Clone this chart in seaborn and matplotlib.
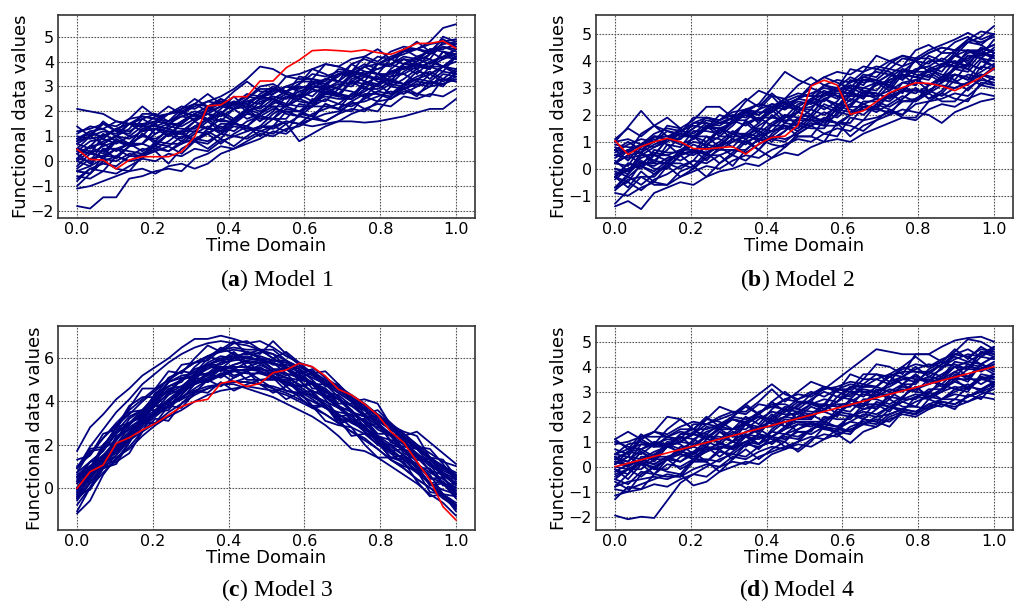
import numpy as np
import pandas as pd
import matplotlib
matplotlib.use("Agg")
import matplotlib.pyplot as plt
import seaborn as sns

# time grid shared by all simulated curves (30 equally spaced points)
time_domain = np.linspace(0, 1, 30)

# ---- Model 1 ----
model1_curves = [
    [2.1, 2.0, 1.9, 1.6, 1.5, 1.7, 1.4, 1.6, 1.8, 1.7, 2.0, 2.2, 2.1, 2.4, 2.3, 2.6, 2.5, 2.8, 3.0, 2.9, 3.2, 3.1, 3.4, 3.3, 3.6, 3.8, 3.7, 4.0, 4.2, 4.1],
    [-1.8, -1.9, -1.45, -1.45, -0.7, -0.6, -0.4, -0.3, -0.4, 0.1, 0.3, 0.6, 0.5, 0.8, 1.1, 1.0, 1.3, 1.4, 1.7, 1.6, 1.9, 2.1, 2.0, 2.4, 2.5, 2.8, 2.7, 3.0, 3.1, 3.3],
    [0.8, 1.0, 1.2, 1.1, 1.5, 1.4, 1.8, 1.9, 2.2, 2.1, 2.4, 2.6, 2.9, 3.3, 3.8, 3.7, 3.4, 3.5, 3.7, 3.9, 3.8, 4.1, 4.2, 4.0, 4.4, 4.6, 4.5, 4.7, 4.8, 4.9],
    [-0.4, -0.2, 0.1, 0.0, 0.3, 0.2, 0.5, 0.4, 0.7, 0.9, 0.8, 1.1, 1.0, 1.2, 1.4, 1.3, 1.6, 1.5, 1.4, 1.5, 1.6, 1.6, 1.55, 1.6, 1.7, 1.8, 1.95, 2.1, 2.1, 2.5],
    [0.5, 0.3, 0.6, 0.8, 0.7, 1.0, 0.9, 1.2, 1.1, 1.4, 1.3, 1.2, 1.5, 1.4, 1.2, 1.1, 1.5, 0.8, 1.1, 1.4, 1.6, 1.9, 2.1, 2.3, 2.2, 2.6, 2.5, 2.7, 2.6, 2.9],
    [0.9, 1.1, 1.0, 1.3, 1.2, 1.5, 1.6, 1.5, 1.8, 2.0, 1.9, 2.2, 2.4, 2.3, 2.6, 2.5, 2.8, 3.0, 2.9, 3.3, 3.5, 3.4, 3.8, 3.9, 4.2, 4.4, 4.5, 4.8, 5.35, 5.5],
    [1.0, 0.9, 1.0, 1.3, 1.5, 1.4, 1.6, 1.9, 2.0, 1.8, 2.1, 2.3, 2.3, 2.7, 2.6, 2.7, 3.0, 3.2, 3.2, 3.1, 3.5, 3.6, 3.9, 3.7, 3.9, 4.2, 4.1, 4.5, 4.5, 4.7],
    [0.4, 0.8, 0.9, 0.7, 1.0, 1.4, 1.4, 1.3, 1.6, 1.9, 1.7, 1.9, 2.3, 2.3, 2.1, 2.5, 2.8, 2.6, 3.0, 3.0, 2.9, 3.4, 3.6, 3.5, 3.5, 3.9, 4.1, 3.9, 4.2, 4.5],
    [0.5, 0.4, 0.4, 0.8, 0.7, 0.7, 1.1, 1.4, 1.3, 1.3, 1.7, 1.6, 1.6, 2.0, 2.2, 2.2, 2.2, 2.5, 2.9, 2.7, 2.7, 3.2, 3.1, 3.0, 3.4, 3.5, 3.8, 3.8, 3.8, 4.0],
    [-0.3, 0.1, 0.2, 0.2, 0.6, 0.7, 0.5, 0.8, 1.2, 1.2, 1.1, 1.5, 1.5, 1.4, 1.8, 2.1, 2.0, 2.0, 2.4, 2.6, 2.5, 2.5, 2.9, 2.9, 3.2, 3.1, 3.3, 3.5, 3.8, 3.6],
    [-0.4, -0.5, 0.0, 0.2, 0.0, 0.3, 0.6, 0.4, 0.8, 0.8, 0.7, 1.1, 1.4, 1.3, 1.3, 1.7, 1.5, 1.8, 2.2, 2.2, 2.1, 2.4, 2.7, 2.7, 2.5, 2.9, 3.1, 3.0, 3.5, 3.4],
    [1.2, 1.3, 1.5, 1.4, 1.7, 1.8, 1.7, 1.9, 2.1, 2.3, 2.2, 2.4, 2.3, 2.6, 2.5, 2.8, 3.0, 2.9, 3.1, 3.3, 3.2, 3.6, 3.5, 3.7, 3.9, 4.1, 4.0, 4.3, 4.6, 4.4],
    [-0.6, -0.7, -0.4, -0.5, -0.2, 0.1, 0.0, 0.3, 0.2, 0.5, 0.4, 0.8, 1.0, 0.9, 1.2, 1.4, 1.6, 1.5, 1.9, 2.1, 2.3, 2.2, 2.5, 2.8, 2.7, 2.9, 3.2, 3.1, 3.3, 3.2],
    [0.1, 0.6, 0.3, 0.9, 0.6, 1.1, 0.8, 1.3, 1.1, 1.6, 1.3, 1.9, 1.6, 2.1, 1.9, 2.4, 2.2, 2.7, 2.4, 3.0, 2.7, 3.2, 2.9, 3.5, 3.2, 3.8, 3.5, 4.0, 3.8, 4.2],
    [-1.1, -1.0, -0.8, -0.6, -0.4, -0.3, -0.5, -0.2, -0.1, -0.3, -0.1, 0.3, 0.5, 0.7, 0.9, 1.2, 1.1, 1.5, 1.7, 1.9, 2.0, 2.3, 2.4, 2.6, 2.8, 2.7, 3.0, 3.2, 3.1, 3.4],
    [1.1, 1.4, 1.3, 1.6, 1.5, 1.8, 1.7, 1.6, 1.9, 2.2, 2.4, 2.3, 2.1, 2.4, 2.6, 2.9, 2.8, 3.1, 3.5, 3.4, 3.6, 3.5, 3.8, 4.2, 4.1, 4.3, 4.5, 4.4, 4.7, 4.8],
    [-0.7, -0.3, -0.1, -0.2, 0.2, 0.5, 0.4, 0.6, 1.0, 0.9, 1.1, 1.4, 1.2, 1.6, 1.8, 1.7, 2.1, 2.0, 2.2, 2.5, 2.3, 2.7, 2.6, 2.8, 3.1, 3.0, 3.3, 3.2, 3.6, 3.5],
    [0.7, 0.5, 0.8, 1.0, 0.9, 1.2, 1.3, 1.5, 1.4, 1.7, 1.9, 1.8, 2.1, 2.2, 2.0, 2.3, 2.6, 2.5, 2.8, 2.9, 3.1, 3.0, 3.4, 3.3, 3.6, 3.7, 3.9, 3.8, 4.1, 4.3],
    [1.4, 1.0, 1.6, 1.2, 1.7, 2.2, 1.8, 2.2, 1.9, 2.3, 2.7, 2.3, 2.8, 3.2, 2.8, 2.8, 3.4, 3.3, 3.3, 3.9, 3.8, 3.6, 4.2, 4.5, 4.1, 4.4, 4.8, 4.4, 4.9, 4.6],
    [-1.0, -0.5, 0.0, -0.3, -0.4, 0.2, 0.4, -0.1, 0.5, 0.8, 0.5, 0.9, 0.6, 1.0, 1.4, 1.4, 1.2, 1.9, 1.8, 1.6, 1.9, 2.4, 2.1, 2.0, 2.6, 3.0, 2.7, 2.6, 3.3, 3.2],
    [0.8, 1.2, 0.9, 1.3, 1.5, 1.2, 1.5, 1.9, 2.0, 1.6, 2.1, 2.5, 2.3, 2.2, 2.7, 3.0, 2.7, 2.6, 3.3, 3.2, 3.7, 3.6, 3.4, 3.9, 4.1, 3.9, 3.8, 4.3, 4.6, 4.5],
    [-0.4, -0.5, 0.2, 0.5, 0.2, 0.2, 0.8, 0.7, 0.7, 1.1, 1.4, 1.1, 1.6, 1.2, 1.4, 1.9, 2.2, 2.0, 1.8, 2.3, 2.1, 2.7, 3.0, 2.7, 2.6, 3.1, 3.4, 3.6, 3.3, 3.7],
    [0.1, 0.6, 1.1, 0.8, 0.7, 1.3, 1.5, 1.0, 1.6, 1.9, 1.6, 2.0, 1.7, 2.1, 2.5, 2.5, 2.3, 3.0, 2.9, 2.7, 3.0, 3.5, 3.2, 3.1, 3.7, 4.1, 3.8, 3.7, 4.4, 4.3],
    [0.3, -0.1, 0.5, 0.1, 0.6, 1.1, 0.7, 1.1, 0.8, 1.2, 1.6, 1.2, 1.7, 2.1, 1.7, 1.7, 2.3, 2.2, 2.2, 2.8, 2.7, 2.5, 3.1, 3.4, 3.0, 3.3, 3.7, 3.3, 3.8, 3.5],
    [0.1, 0.0, 0.7, 1.0, 0.7, 0.7, 1.3, 1.2, 1.2, 1.6, 1.9, 1.6, 2.1, 1.7, 1.9, 2.4, 2.7, 2.5, 2.3, 2.8, 2.6, 3.2, 3.5, 3.2, 3.1, 3.6, 3.9, 4.1, 3.8, 4.2],
    [0.9, 1.2, 1.3, 1.0, 1.3, 1.9, 1.9, 1.6, 2.1, 2.5, 2.2, 2.5, 2.2, 2.5, 3.0, 3.1, 2.8, 3.1, 3.7, 3.5, 3.2, 3.9, 4.1, 3.9, 3.8, 4.5, 4.5, 4.3, 5.0, 4.8],
    [-0.8, -0.3, -0.4, 0.2, 0.0, 0.1, 0.7, 0.6, 0.3, 0.8, 1.1, 0.7, 1.1, 1.4, 1.0, 1.4, 2.0, 1.8, 1.7, 2.3, 2.1, 2.0, 2.6, 2.4, 3.0, 2.9, 2.6, 3.2, 3.0, 3.6],
    [0.7, 1.0, 0.7, 1.0, 1.5, 1.5, 1.1, 1.4, 2.0, 1.8, 1.7, 2.1, 2.6, 2.1, 2.5, 2.9, 2.7, 2.5, 3.2, 3.0, 3.5, 3.5, 3.2, 3.9, 3.9, 3.7, 4.0, 4.5, 4.4, 4.1],
    [0.0, -0.2, 0.5, 0.5, 0.4, 0.3, 0.6, 1.1, 1.1, 0.8, 1.2, 0.9, 1.5, 1.9, 1.8, 1.7, 1.7, 2.3, 2.2, 2.7, 2.6, 2.5, 2.8, 3.1, 2.7, 3.1, 3.6, 3.5, 3.2, 3.5],
    [0.3, 0.6, 0.7, 0.4, 0.7, 1.3, 1.3, 1.0, 1.5, 1.9, 1.6, 1.9, 1.6, 1.9, 2.4, 2.5, 2.2, 2.5, 3.1, 2.9, 2.6, 3.3, 3.5, 3.3, 3.2, 3.9, 3.9, 3.7, 4.4, 4.2],
    [-0.2, 0.3, 0.2, 0.8, 0.6, 0.7, 1.3, 1.2, 0.9, 1.4, 1.7, 1.3, 1.7, 2.0, 1.6, 2.0, 2.6, 2.4, 2.3, 2.9, 2.7, 2.6, 3.2, 3.0, 3.6, 3.5, 3.2, 3.8, 3.6, 4.2],
    [0.4, 0.3, 1.0, 1.3, 1.0, 1.0, 1.6, 1.5, 1.5, 1.9, 2.2, 1.9, 2.4, 2.0, 2.2, 2.7, 3.0, 2.8, 2.6, 3.1, 2.9, 3.5, 3.8, 3.5, 3.4, 3.9, 4.2, 4.4, 4.1, 4.5],
    [0.0, 0.4, 0.1, 0.5, 0.7, 0.4, 0.7, 1.1, 1.2, 0.8, 1.3, 1.7, 1.5, 1.4, 1.9, 2.2, 1.9, 1.8, 2.5, 2.4, 2.9, 2.8, 2.6, 3.1, 3.3, 3.1, 3.0, 3.5, 3.8, 3.7],
    [0.5, 1.0, 1.5, 1.2, 1.1, 1.7, 1.9, 1.4, 2.0, 2.3, 2.0, 2.4, 2.1, 2.5, 2.9, 2.9, 2.7, 3.4, 3.3, 3.1, 3.4, 3.9, 3.6, 3.5, 4.1, 4.5, 4.2, 4.1, 4.8, 4.7],
]
model1_red = [0.48, 0.07, 0.05, -0.31, 0.05, 0.18, 0.18, 0.18, 0.38, 0.98, 2.22, 2.26, 2.59, 2.59, 3.22, 3.22, 3.75, 4.06, 4.44, 4.47,
              4.44, 4.4, 4.47, 4.36, 4.29, 4.49, 4.73, 4.73, 4.83, 4.53]

# ---- Model 2 ----
model2_curves = [
    [1.0, 1.55, 2.15, 1.6, 1.2, 1.4, 1.3, 1.7, 1.6, 1.9, 2.1, 2.0, 2.3, 2.2, 2.5, 2.4, 2.7, 2.9, 3.0, 2.8, 3.1, 3.3, 3.5, 3.4, 3.7, 3.9, 3.8, 4.1, 4.3, 4.2],
    [-1.4, -1.2, -1.5, -0.9, -0.7, -0.5, -0.6, -0.3, -0.1, 0.0, 0.2, 0.1, 0.4, 0.6, 0.5, 0.8, 1.0, 1.1, 1.0, 1.3, 1.5, 1.7, 1.9, 1.8, 2.2, 2.4, 2.3, 2.6, 2.8, 2.7],
    [0.5, 0.7, 0.6, 0.9, 1.1, 1.3, 1.2, 1.5, 1.7, 1.9, 2.1, 2.4, 3.0, 3.6, 3.3, 3.1, 3.4, 3.6, 3.5, 3.8, 3.7, 4.0, 4.2, 4.1, 4.4, 4.6, 4.8, 5.05, 4.8, 5.0],
    [-0.2, 0.0, 0.2, 0.1, 0.4, 0.5, 0.7, 0.6, 0.9, 1.0, 1.2, 1.1, 1.4, 1.5, 1.7, 1.6, 1.9, 1.7, 1.2, 1.6, 1.8, 2.0, 2.2, 2.1, 2.0, 1.7, 2.1, 2.3, 2.5, 2.6],
    [0.8, 0.6, 0.9, 1.2, 1.1, 1.4, 1.6, 1.5, 1.8, 2.0, 1.9, 2.2, 2.4, 2.3, 2.6, 2.8, 3.0, 2.9, 3.2, 3.4, 3.6, 3.5, 3.8, 4.0, 4.3, 4.5, 4.4, 4.7, 4.9, 5.3],
    [0.9, 0.8, 0.8, 1.2, 1.2, 1.1, 1.5, 1.9, 1.7, 1.7, 2.2, 2.1, 2.1, 2.5, 2.7, 2.7, 2.7, 3.0, 3.4, 3.2, 3.3, 3.7, 3.6, 3.6, 4.0, 4.0, 4.4, 4.4, 4.4, 4.6],
    [0.5, 0.4, 0.5, 0.8, 1.1, 0.9, 1.1, 1.5, 1.5, 1.3, 1.7, 1.9, 1.9, 2.3, 2.2, 2.3, 2.6, 2.8, 2.8, 2.7, 3.2, 3.2, 3.5, 3.4, 3.6, 3.8, 3.8, 4.2, 4.2, 4.4],
    [0.0, -0.1, 0.4, 0.6, 0.5, 0.7, 1.0, 0.9, 1.2, 1.2, 1.2, 1.6, 1.9, 1.8, 1.8, 2.2, 2.0, 2.3, 2.7, 2.7, 2.7, 2.9, 3.2, 3.3, 3.1, 3.4, 3.7, 3.6, 4.1, 4.0],
    [-0.4, 0.0, 0.1, -0.1, 0.3, 0.6, 0.6, 0.6, 0.8, 1.1, 1.0, 1.2, 1.6, 1.6, 1.4, 1.8, 2.1, 1.9, 2.3, 2.3, 2.3, 2.7, 2.9, 2.9, 2.9, 3.2, 3.5, 3.3, 3.6, 3.9],
    [-0.8, -0.4, -0.3, -0.3, 0.2, 0.2, 0.0, 0.4, 0.7, 0.7, 0.7, 1.1, 1.1, 1.0, 1.4, 1.7, 1.6, 1.6, 2.0, 2.2, 2.2, 2.1, 2.5, 2.6, 2.9, 2.7, 3.0, 3.2, 3.5, 3.3],
    [1.0, 1.1, 0.9, 1.3, 1.5, 1.4, 1.7, 1.9, 1.8, 2.1, 2.2, 2.0, 2.4, 2.3, 2.6, 2.5, 2.8, 3.0, 2.9, 3.3, 3.2, 3.5, 3.4, 3.7, 3.8, 4.1, 3.9, 4.3, 4.4, 4.6],
    [-0.9, -1.0, -0.7, -0.5, -0.6, -0.3, -0.1, 0.1, 0.0, 0.3, 0.5, 0.4, 0.7, 0.9, 1.1, 1.0, 1.3, 1.5, 1.4, 1.8, 1.9, 2.1, 2.0, 2.4, 2.5, 2.6, 2.8, 2.7, 3.1, 3.0],
    [0.3, -0.1, 0.6, 0.2, 0.9, 0.5, 1.2, 0.8, 1.5, 1.1, 1.8, 1.4, 2.0, 1.7, 2.3, 2.0, 2.6, 2.3, 2.9, 2.6, 3.2, 2.9, 3.5, 3.1, 3.7, 3.4, 4.0, 3.7, 4.3, 4.1],
    [-0.7, -0.5, -0.8, -0.4, -0.2, 0.1, 0.3, 0.2, 0.5, 0.7, 0.6, 0.9, 1.2, 1.1, 1.3, 1.6, 1.8, 1.7, 2.0, 2.3, 2.1, 2.4, 2.7, 2.5, 2.8, 3.1, 3.0, 3.2, 3.5, 3.4],
    [0.4, 0.7, 0.9, 0.8, 1.0, 1.3, 1.2, 1.6, 1.5, 1.7, 2.0, 1.8, 2.1, 2.4, 2.3, 2.6, 2.5, 2.9, 3.1, 3.0, 3.2, 3.5, 3.3, 3.7, 3.8, 3.6, 4.2, 4.0, 4.5, 4.3],
    [-0.3, 0.2, 0.0, 0.5, 0.3, 0.6, 0.9, 0.7, 1.0, 1.4, 1.2, 1.5, 1.4, 1.9, 2.1, 1.9, 2.4, 2.2, 2.4, 2.8, 2.6, 3.1, 2.9, 3.3, 3.5, 3.2, 3.7, 3.9, 3.7, 4.2],
    [-0.1, -0.3, 0.1, 0.3, 0.2, 0.6, 0.5, 0.8, 0.7, 1.0, 1.3, 1.2, 1.4, 1.6, 1.5, 1.9, 1.8, 2.2, 2.1, 2.4, 2.6, 2.5, 2.9, 2.8, 3.1, 3.3, 3.2, 3.5, 3.4, 3.8],
    [0.6, 0.9, 1.1, 1.0, 1.4, 1.2, 1.5, 1.8, 1.7, 1.9, 2.2, 2.4, 2.3, 2.6, 2.8, 2.7, 3.1, 3.3, 3.2, 3.6, 3.8, 3.7, 4.1, 4.0, 4.3, 4.5, 4.4, 4.8, 4.7, 4.9],
    [0.7, 0.6, 1.3, 1.6, 1.4, 1.3, 1.9, 1.9, 1.8, 2.2, 2.6, 2.3, 2.8, 2.4, 2.6, 3.1, 3.4, 3.2, 3.0, 3.5, 3.4, 3.9, 4.2, 4.0, 3.9, 4.3, 4.7, 4.9, 4.6, 5.0],
    [-0.7, -0.3, -0.6, -0.2, 0.1, -0.3, 0.0, 0.5, 0.5, 0.1, 0.7, 1.1, 0.9, 0.8, 1.3, 1.6, 1.3, 1.2, 1.9, 1.8, 2.4, 2.2, 2.0, 2.6, 2.8, 2.5, 2.5, 3.0, 3.3, 3.2],
    [0.7, 0.3, 0.9, 0.5, 1.1, 1.5, 1.1, 1.6, 1.2, 1.6, 2.1, 1.7, 2.2, 2.6, 2.2, 2.2, 2.8, 2.7, 2.7, 3.3, 3.3, 3.0, 3.6, 4.0, 3.6, 3.8, 4.3, 3.9, 4.4, 4.1],
    [-0.7, -0.2, 0.3, 0.0, 0.0, 0.5, 0.7, 0.3, 0.8, 1.1, 0.9, 1.3, 1.0, 1.4, 1.8, 1.8, 1.6, 2.3, 2.2, 2.0, 2.4, 2.8, 2.5, 2.5, 3.1, 3.4, 3.2, 3.1, 3.8, 3.7],
    [0.2, 0.5, 0.6, 0.3, 0.7, 1.2, 1.2, 1.0, 1.4, 1.8, 1.6, 1.9, 1.6, 1.9, 2.4, 2.5, 2.2, 2.5, 3.1, 2.9, 2.7, 3.3, 3.5, 3.4, 3.3, 3.9, 4.0, 3.8, 4.5, 4.3],
    [0.0, -0.2, 0.5, 0.5, 0.5, 0.3, 0.6, 1.2, 1.1, 0.8, 1.3, 1.0, 1.6, 2.0, 1.9, 1.8, 1.8, 2.4, 2.3, 2.8, 2.8, 2.6, 2.9, 3.3, 2.9, 3.2, 3.8, 3.7, 3.4, 3.7],
    [-0.3, 0.2, 0.1, 0.7, 0.6, 0.6, 1.2, 1.2, 0.8, 1.3, 1.7, 1.3, 1.7, 2.0, 1.6, 2.0, 2.6, 2.4, 2.3, 2.9, 2.8, 2.6, 3.2, 3.1, 3.7, 3.5, 3.3, 3.9, 3.7, 4.3],
    [0.7, 1.0, 0.7, 1.0, 1.6, 1.5, 1.1, 1.5, 2.0, 1.8, 1.8, 2.2, 2.7, 2.2, 2.6, 3.0, 2.8, 2.6, 3.3, 3.1, 3.7, 3.6, 3.3, 4.1, 4.1, 3.8, 4.2, 4.7, 4.6, 4.3],
    [-0.3, -0.7, -0.1, -0.5, 0.1, 0.5, 0.1, 0.6, 0.2, 0.6, 1.1, 0.7, 1.2, 1.6, 1.2, 1.2, 1.8, 1.7, 1.7, 2.3, 2.3, 2.0, 2.6, 3.0, 2.6, 2.8, 3.3, 2.9, 3.4, 3.1],
    [1.1, 1.5, 1.2, 1.6, 1.9, 1.5, 1.8, 2.3, 2.3, 1.9, 2.5, 2.9, 2.7, 2.6, 3.1, 3.4, 3.1, 3.0, 3.7, 3.6, 4.2, 4.0, 3.8, 4.4, 4.6, 4.3, 4.3, 4.8, 5.1, 5.0],
    [-1.3, -0.8, -0.3, -0.6, -0.6, -0.1, 0.1, -0.3, 0.2, 0.5, 0.3, 0.7, 0.4, 0.8, 1.2, 1.2, 1.0, 1.7, 1.6, 1.4, 1.8, 2.2, 1.9, 1.9, 2.5, 2.8, 2.6, 2.5, 3.2, 3.1],
    [0.2, 0.1, 0.8, 1.1, 0.9, 0.8, 1.4, 1.4, 1.3, 1.7, 2.1, 1.8, 2.3, 1.9, 2.1, 2.6, 2.9, 2.7, 2.5, 3.0, 2.9, 3.4, 3.7, 3.5, 3.4, 3.8, 4.2, 4.4, 4.1, 4.5],
    [-0.3, 0.0, 0.1, -0.2, 0.2, 0.7, 0.7, 0.5, 0.9, 1.3, 1.1, 1.4, 1.1, 1.4, 1.9, 2.0, 1.7, 2.0, 2.6, 2.4, 2.2, 2.8, 3.0, 2.9, 2.8, 3.4, 3.5, 3.3, 4.0, 3.8],
    [0.2, 0.5, 0.2, 0.5, 1.1, 1.0, 0.6, 1.0, 1.5, 1.3, 1.3, 1.7, 2.2, 1.7, 2.1, 2.5, 2.3, 2.1, 2.8, 2.6, 3.2, 3.1, 2.8, 3.6, 3.6, 3.3, 3.7, 4.2, 4.1, 3.8],
    [-0.3, -0.5, 0.2, 0.2, 0.2, 0.0, 0.3, 0.9, 0.8, 0.5, 1.0, 0.7, 1.3, 1.7, 1.6, 1.5, 1.5, 2.1, 2.0, 2.5, 2.5, 2.3, 2.6, 3.0, 2.6, 2.9, 3.5, 3.4, 3.1, 3.4],
    [0.2, 0.7, 0.6, 1.2, 1.1, 1.1, 1.7, 1.7, 1.3, 1.8, 2.2, 1.8, 2.2, 2.5, 2.1, 2.5, 3.1, 2.9, 2.8, 3.4, 3.3, 3.1, 3.7, 3.6, 4.2, 4.0, 3.8, 4.4, 4.2, 4.8],
]
model2_red = [1.04, 0.53, 0.82, 1.0, 1.13, 1.0, 0.75, 0.73, 0.78, 0.82, 0.54, 0.92, 1.16, 1.21, 1.62, 3.07, 3.29, 3.11, 2.02, 2.15,
              2.49, 2.82, 3.02, 3.19, 3.17, 3.07, 2.9, 3.14, 3.39, 3.73]

# ---- Model 3 ----
model3_curves = [
    [1.7, 2.8, 3.4, 4.1, 4.6, 5.2, 5.6, 6.0, 6.5, 6.9, 6.9, 7.05, 6.9, 6.7, 6.8, 6.5, 6.1, 5.8, 5.6, 5.1, 4.7, 4.3, 3.9, 3.4, 3.0, 2.5, 2.0, 1.6, 1.2, 1.0],
    [-1.2, -0.6, 0.6, 1.4, 1.8, 2.4, 2.9, 3.3, 3.6, 4.0, 4.3, 4.5, 4.6, 4.7, 4.6, 4.5, 4.3, 4.0, 3.7, 3.4, 3.0, 2.6, 2.2, 1.8, 1.3, 0.9, 0.4, 0.0, -0.4, -0.8],
    [-0.5, 0.3, 1.0, 1.7, 2.3, 2.9, 3.4, 3.8, 4.2, 4.5, 4.7, 4.8, 4.8, 4.6, 4.4, 4.2, 3.9, 3.6, 3.3, 2.9, 2.4, 1.8, 1.7, 1.4, 1.0, 0.6, 0.2, -0.3, -0.7, -1.3],
    [-0.2, 0.6, 1.3, 1.9, 2.5, 3.2, 3.6, 4.1, 4.6, 4.9, 5.3, 5.5, 5.6, 5.6, 5.5, 5.3, 5.1, 4.8, 4.5, 4.2, 3.8, 3.5, 3.1, 2.8, 2.5, 2.4, 2.6, 2.1, 1.6, 1.1],
    [0.9, 1.6, 2.3, 3.0, 3.6, 4.1, 4.6, 5.0, 5.4, 5.8, 6.1, 6.3, 6.4, 6.3, 6.2, 6.8, 6.2, 5.7, 5.3, 4.9, 4.5, 4.1, 3.7, 3.3, 2.8, 2.3, 1.9, 1.4, 1.0, 0.6],
    [0.7, 1.2, 1.7, 2.6, 3.3, 3.6, 4.2, 4.9, 5.2, 5.3, 5.8, 6.1, 6.0, 6.3, 6.0, 5.7, 5.7, 5.5, 5.0, 4.4, 4.3, 3.8, 3.6, 2.9, 2.5, 2.2, 1.5, 1.3, 0.7, 0.4],
    [-0.4, 0.6, 1.1, 1.5, 2.3, 3.1, 3.5, 3.8, 4.3, 4.9, 4.9, 5.2, 5.5, 5.4, 5.0, 5.0, 5.0, 4.4, 4.3, 3.8, 3.2, 3.1, 2.8, 2.2, 1.6, 1.4, 1.0, 0.2, -0.1, -0.3],
    [0.4, 0.9, 1.3, 2.3, 2.7, 3.1, 3.9, 4.6, 4.7, 5.0, 5.6, 5.6, 5.5, 5.8, 5.8, 5.4, 5.1, 5.0, 4.9, 4.2, 3.7, 3.6, 3.0, 2.4, 2.2, 1.7, 1.4, 0.8, 0.2, -0.1],
    [1.0, 1.5, 2.3, 2.9, 3.4, 4.0, 4.5, 5.0, 5.4, 5.8, 6.1, 6.4, 6.5, 6.4, 6.4, 6.2, 5.9, 5.6, 5.4, 5.0, 4.6, 4.1, 3.8, 3.4, 2.9, 2.5, 2.0, 1.4, 1.0, 0.7],
    [-0.8, 0.0, 0.7, 1.3, 1.9, 2.6, 3.0, 3.5, 3.9, 4.3, 4.6, 4.8, 4.9, 4.9, 4.8, 4.6, 4.4, 4.1, 3.8, 3.4, 3.0, 2.6, 2.3, 1.8, 1.3, 0.9, 0.4, 0.0, -0.5, -0.9],
    [0.5, 0.8, 1.8, 2.2, 3.0, 3.3, 4.2, 4.4, 5.0, 5.2, 5.7, 5.7, 6.0, 5.8, 5.9, 5.5, 5.5, 5.0, 4.9, 4.3, 4.1, 3.5, 3.3, 2.7, 2.4, 1.8, 1.5, 0.8, 0.6, 0.1],
    [-0.3, 0.4, 1.2, 1.8, 2.5, 3.1, 3.5, 4.0, 4.5, 4.8, 5.1, 5.5, 5.4, 5.5, 5.4, 5.2, 4.9, 4.7, 4.3, 4.0, 3.7, 3.2, 2.8, 2.4, 2.0, 1.5, 1.0, 0.5, 0.2, -0.4],
    [0.2, 1.0, 1.5, 2.2, 2.9, 3.5, 4.0, 4.5, 5.0, 5.4, 5.7, 6.0, 6.1, 6.2, 6.1, 5.9, 5.8, 5.5, 5.2, 4.8, 4.4, 4.0, 3.6, 3.2, 2.7, 2.3, 1.8, 1.3, 0.8, 0.5],
    [-0.6, 0.2, 0.9, 1.5, 2.2, 2.8, 3.3, 3.8, 4.2, 4.6, 5.0, 5.2, 5.4, 5.5, 5.5, 5.4, 5.3, 5.1, 4.8, 4.5, 4.1, 3.8, 3.4, 3.0, 2.5, 2.1, 1.6, 1.1, 0.6, 0.2],
    [0.0, 0.9, 1.5, 2.0, 2.8, 3.2, 3.9, 4.3, 4.6, 5.2, 5.3, 5.6, 5.6, 5.6, 5.4, 5.1, 4.9, 4.5, 4.1, 3.7, 3.3, 2.8, 2.5, 2.0, 1.6, 1.1, 0.7, 0.2, -0.3, -0.7],
    [0.5, 1.2, 1.7, 2.5, 3.0, 3.6, 4.1, 4.7, 5.0, 5.5, 5.7, 5.9, 6.0, 6.1, 5.9, 5.8, 5.5, 5.2, 4.9, 4.6, 4.1, 3.8, 3.3, 2.9, 2.4, 2.0, 1.5, 1.0, 0.7, 0.2],
    [0.2, 0.6, 1.1, 1.8, 2.4, 3.0, 3.4, 4.0, 4.4, 4.8, 5.0, 5.3, 5.4, 5.3, 5.3, 5.1, 4.8, 4.6, 4.2, 3.9, 3.4, 3.1, 2.6, 2.2, 1.7, 1.3, 0.8, 0.2, -0.4, -1.0],
    [-0.1, 0.7, 1.4, 2.0, 2.6, 3.3, 3.8, 4.4, 4.7, 5.2, 5.5, 5.8, 5.9, 6.0, 5.9, 5.8, 5.6, 5.4, 5.1, 4.8, 4.4, 4.0, 3.6, 3.1, 2.7, 2.3, 1.8, 1.4, 0.9, 0.6],
    [1.3, 1.5, 2.5, 2.7, 3.7, 4.6, 4.6, 5.4, 5.3, 6.0, 6.6, 6.3, 6.7, 6.8, 6.4, 6.0, 6.3, 5.8, 5.3, 5.4, 4.8, 4.0, 4.1, 3.9, 2.9, 2.6, 2.4, 1.4, 1.3, 0.5],
    [-1.1, 0.0, 0.9, 1.2, 1.6, 2.6, 3.2, 3.1, 3.9, 4.5, 4.4, 4.9, 4.5, 4.8, 5.0, 4.6, 4.1, 4.4, 3.8, 3.1, 2.9, 2.8, 2.0, 1.4, 1.4, 1.2, 0.3, -0.4, -0.3, -0.9],
    [0.7, 1.7, 1.8, 2.8, 3.5, 3.6, 4.3, 5.1, 5.4, 5.3, 6.0, 6.5, 6.2, 6.0, 6.3, 6.2, 5.6, 5.1, 5.3, 4.7, 4.7, 4.0, 3.3, 3.3, 2.9, 2.1, 1.4, 1.3, 1.0, 0.4],
    [-0.5, 0.0, 1.1, 2.0, 2.2, 2.6, 3.6, 3.9, 4.1, 4.8, 5.3, 5.1, 5.5, 5.0, 5.0, 5.1, 5.1, 4.5, 3.8, 3.8, 3.1, 3.1, 2.9, 2.1, 1.4, 1.3, 1.0, 0.6, -0.3, -0.4],
    [0.5, 0.9, 2.0, 2.6, 3.0, 3.3, 4.0, 4.9, 5.1, 5.1, 5.7, 5.5, 6.0, 6.3, 6.0, 5.5, 5.2, 5.4, 4.8, 4.8, 4.2, 3.5, 3.3, 3.1, 2.1, 1.9, 1.8, 1.1, 0.2, 0.0],
    [-0.1, 0.8, 1.3, 1.6, 2.4, 3.4, 3.8, 3.9, 4.6, 5.3, 5.2, 5.6, 5.2, 5.4, 5.7, 5.4, 4.8, 4.7, 4.8, 4.1, 3.3, 3.4, 3.1, 2.4, 1.7, 1.8, 1.2, 0.4, 0.5, -0.2],
    [-0.2, 0.9, 1.2, 2.4, 2.7, 3.2, 4.2, 4.5, 4.4, 5.2, 5.7, 5.4, 5.7, 5.9, 5.3, 5.3, 5.6, 5.0, 4.4, 4.5, 3.8, 3.1, 3.2, 2.5, 2.5, 1.8, 0.9, 0.9, 0.1, 0.2],
    [0.9, 1.8, 1.9, 2.8, 3.8, 4.2, 4.2, 4.9, 5.7, 5.8, 5.9, 6.4, 6.8, 6.2, 6.4, 6.4, 5.9, 5.3, 5.5, 4.8, 4.8, 4.2, 3.4, 3.6, 3.0, 2.2, 1.9, 1.8, 1.1, 0.3],
    [-0.3, -0.1, 0.9, 1.1, 2.1, 3.0, 3.0, 3.8, 3.7, 4.4, 5.0, 4.7, 5.1, 5.4, 4.8, 4.4, 4.7, 4.2, 3.7, 3.8, 3.2, 2.4, 2.5, 2.3, 1.3, 1.0, 0.8, -0.2, -0.3, -1.1],
    [0.9, 1.9, 2.7, 3.5, 4.1, 4.8, 5.3, 5.8, 6.2, 6.5, 6.7, 6.8, 6.7, 6.6, 6.4, 6.0, 5.6, 5.2, 4.8, 4.3, 3.8, 3.3, 2.8, 2.3, 1.8, 1.3, 0.7, 0.2, -0.3, -0.8],
    [0.6, 1.0, 1.5, 2.0, 2.5, 3.0, 3.4, 3.8, 4.1, 4.4, 4.6, 4.8, 4.9, 4.9, 4.8, 4.7, 4.5, 4.3, 4.0, 3.7, 3.4, 3.0, 2.7, 2.3, 1.9, 1.5, 1.1, 0.7, 0.4, 0.0],
    [0.3, 0.8, 1.9, 2.8, 3.0, 3.4, 4.4, 4.7, 4.9, 5.6, 6.1, 5.9, 6.3, 5.8, 5.8, 5.9, 5.9, 5.3, 4.6, 4.6, 3.9, 3.9, 3.7, 2.9, 2.2, 2.1, 1.8, 1.4, 0.5, 0.4],
    [-0.5, 0.6, 1.5, 1.8, 2.2, 3.2, 3.8, 3.7, 4.5, 5.1, 5.0, 5.5, 5.1, 5.4, 5.6, 5.2, 4.7, 5.0, 4.4, 3.7, 3.5, 3.4, 2.6, 2.0, 2.0, 1.8, 0.9, 0.2, 0.3, -0.3],
    [0.0, 0.6, 1.2, 1.8, 2.4, 3.0, 3.5, 4.0, 4.5, 4.9, 5.2, 5.5, 5.7, 5.9, 6.0, 5.9, 5.8, 5.6, 5.3, 5.0, 4.6, 4.2, 3.8, 3.4, 2.9, 2.4, 1.9, 1.4, 0.9, 0.5],
    [-0.4, 0.5, 1.0, 1.3, 2.1, 3.1, 3.5, 3.6, 4.3, 5.0, 4.9, 5.3, 4.9, 5.1, 5.4, 5.1, 4.5, 4.4, 4.5, 3.8, 3.0, 3.1, 2.8, 2.1, 1.4, 1.5, 0.9, 0.1, 0.2, -0.5],
    [0.3, 1.2, 1.3, 2.2, 3.2, 3.6, 3.6, 4.3, 5.1, 5.2, 5.3, 5.8, 6.2, 5.6, 5.8, 5.8, 5.3, 4.7, 4.9, 4.2, 4.2, 3.6, 2.8, 3.0, 2.4, 1.6, 1.3, 1.2, 0.5, -0.3],
]
model3_red = [-0.03, 0.74, 1.05, 2.06, 2.32, 2.68, 2.98, 3.37, 3.76, 3.99, 4.1, 4.84, 4.95, 4.69, 4.84, 5.33, 5.46, 5.77, 5.61, 5.18,
              4.56, 4.3, 3.88, 3.37, 2.6, 2.09, 1.21, 0.36, -0.88, -1.5]

# ---- Model 4 ----
model4_curves = [
    [-1.95, -2.1, -2.0, -2.05, -1.35, -0.65, -0.3, 0.0, 0.3, 0.5, 0.4, 0.8, 1.0, 1.2, 1.1, 1.5, 1.7, 1.6, 2.0, 2.2, 2.1, 2.4, 2.6, 2.8, 2.7, 3.0, 3.2, 3.1, 3.5, 3.6],
    [0.5, 0.7, 0.9, 0.8, 1.2, 1.4, 1.3, 1.7, 1.9, 2.1, 2.5, 2.9, 3.3, 2.9, 2.7, 3.0, 2.8, 3.1, 3.3, 3.2, 3.5, 3.7, 3.6, 3.9, 4.1, 4.0, 4.3, 4.5, 4.4, 4.7],
    [0.3, 0.6, 0.5, 0.9, 1.1, 1.0, 1.4, 1.3, 1.7, 1.9, 1.8, 2.2, 2.4, 2.3, 2.7, 2.9, 3.1, 3.5, 3.9, 4.3, 4.7, 4.6, 4.5, 4.5, 4.5, 4.8, 5.05, 5.15, 5.2, 5.0],
    [-0.3, -0.1, 0.2, 0.1, 0.4, 0.6, 0.5, 0.8, 0.7, 1.0, 1.2, 1.1, 1.4, 1.3, 1.5, 1.7, 1.6, 1.3, 0.95, 1.4, 1.6, 1.9, 2.1, 2.0, 2.3, 2.5, 2.4, 2.6, 2.8, 2.7],
    [-0.8, -0.6, -0.5, -0.4, -0.5, -0.3, -0.75, -0.6, -0.2, 0.0, 0.2, 0.1, 0.5, 0.7, 0.9, 0.8, 1.1, 1.3, 1.5, 1.7, 1.6, 2.0, 2.2, 2.1, 2.4, 2.6, 2.5, 2.8, 3.0, 2.9],
    [-1.15, -1.0, -0.9, -0.7, -0.8, -0.5, -0.3, -0.4, 0.0, 0.2, 0.1, 0.4, 0.6, 0.8, 0.7, 1.1, 1.3, 1.2, 1.6, 1.8, 1.7, 2.1, 2.3, 2.2, 2.5, 2.7, 2.9, 2.8, 3.1, 3.3],
    [0.5, 0.9, 1.0, 0.8, 1.2, 1.5, 1.5, 1.5, 1.7, 2.0, 1.9, 2.1, 2.5, 2.5, 2.3, 2.7, 3.0, 2.8, 3.2, 3.2, 3.2, 3.6, 3.8, 3.8, 3.8, 4.1, 4.4, 4.2, 4.5, 4.8],
    [0.3, 0.2, 0.7, 0.9, 0.8, 1.0, 1.3, 1.2, 1.5, 1.5, 1.5, 1.9, 2.2, 2.1, 2.1, 2.5, 2.3, 2.6, 3.0, 3.0, 3.0, 3.2, 3.5, 3.6, 3.4, 3.7, 4.0, 3.9, 4.4, 4.3],
    [0.2, 0.1, 0.2, 0.5, 0.8, 0.6, 0.8, 1.2, 1.2, 1.0, 1.4, 1.6, 1.6, 2.0, 1.9, 2.0, 2.3, 2.5, 2.5, 2.4, 2.9, 2.9, 3.2, 3.1, 3.3, 3.5, 3.5, 3.9, 3.9, 4.1],
    [0.0, -0.1, -0.1, 0.3, 0.3, 0.2, 0.6, 1.0, 0.8, 0.8, 1.3, 1.2, 1.2, 1.6, 1.8, 1.8, 1.8, 2.1, 2.5, 2.3, 2.4, 2.8, 2.7, 2.7, 3.1, 3.1, 3.5, 3.5, 3.5, 3.7],
    [-0.5, -0.7, -0.2, -0.3, 0.1, 0.0, 0.3, 0.2, 0.6, 0.5, 0.9, 0.8, 1.0, 1.3, 1.2, 1.5, 1.7, 1.6, 1.8, 2.1, 2.0, 2.4, 2.3, 2.6, 2.8, 2.7, 3.0, 3.2, 3.1, 3.4],
    [0.9, 1.0, 1.2, 1.4, 1.3, 1.6, 1.8, 1.7, 2.0, 2.2, 2.1, 2.5, 2.4, 2.7, 2.9, 2.8, 3.1, 3.2, 3.4, 3.3, 3.7, 3.6, 3.9, 4.1, 4.0, 4.3, 4.5, 4.4, 4.7, 4.6],
    [-0.6, -0.9, -0.7, -0.5, -0.3, -0.4, -0.1, 0.1, 0.0, 0.4, 0.3, 0.6, 0.8, 0.7, 1.0, 1.2, 1.1, 1.5, 1.4, 1.7, 1.9, 1.8, 2.2, 2.1, 2.4, 2.6, 2.5, 2.8, 3.0, 3.2],
    [0.4, 0.0, 0.6, 0.3, 0.9, 0.5, 1.1, 0.8, 1.4, 1.0, 1.7, 1.3, 1.9, 1.6, 2.2, 1.9, 2.5, 2.1, 2.7, 2.4, 3.0, 2.7, 3.3, 3.0, 3.5, 3.3, 3.8, 3.5, 4.1, 3.9],
    [1.0, 0.8, 0.7, 1.0, 0.9, 1.2, 1.1, 1.4, 1.6, 1.5, 1.8, 2.0, 1.9, 2.3, 2.2, 2.5, 2.7, 2.6, 2.9, 3.1, 3.0, 3.3, 3.5, 3.4, 3.8, 3.6, 4.0, 4.2, 4.1, 4.4],
    [-0.4, -0.1, 0.1, 0.0, 0.3, 0.5, 0.4, 0.7, 0.9, 0.8, 1.0, 1.3, 1.2, 1.5, 1.7, 1.6, 1.9, 2.1, 2.0, 2.3, 2.5, 2.4, 2.7, 2.9, 2.8, 3.1, 3.4, 3.2, 3.6, 3.5],
    [0.1, 0.4, 0.3, 0.6, 0.8, 1.0, 0.9, 1.2, 1.1, 1.5, 1.7, 1.6, 1.8, 2.0, 2.2, 2.1, 2.5, 2.4, 2.6, 2.9, 2.8, 3.1, 3.0, 3.4, 3.6, 3.5, 3.8, 4.0, 3.9, 4.2],
    [0.2, 0.0, 0.3, 0.1, 0.4, 0.5, 0.3, 0.6, 0.8, 0.7, 1.0, 0.9, 1.2, 1.1, 1.4, 1.3, 1.6, 1.5, 1.8, 1.7, 2.0, 2.1, 2.3, 2.2, 2.5, 2.4, 2.7, 2.6, 2.9, 3.1],
    [1.1, 0.7, 1.3, 0.9, 1.5, 1.9, 1.5, 2.0, 1.6, 2.0, 2.5, 2.1, 2.6, 3.0, 2.6, 2.6, 3.2, 3.1, 3.1, 3.7, 3.7, 3.4, 4.0, 4.4, 4.0, 4.2, 4.7, 4.3, 4.8, 4.5],
    [-0.9, -1.0, -0.3, 0.0, -0.2, -0.3, 0.3, 0.3, 0.2, 0.6, 1.0, 0.7, 1.2, 0.8, 1.0, 1.5, 1.8, 1.6, 1.4, 1.9, 1.8, 2.3, 2.6, 2.4, 2.3, 2.7, 3.1, 3.3, 3.0, 3.4],
    [0.1, 0.6, 1.1, 0.8, 0.8, 1.3, 1.5, 1.1, 1.6, 1.9, 1.7, 2.1, 1.8, 2.2, 2.6, 2.6, 2.4, 3.1, 3.0, 2.8, 3.2, 3.6, 3.3, 3.3, 3.9, 4.2, 4.0, 3.9, 4.6, 4.5],
    [-0.1, -0.5, 0.1, -0.3, 0.3, 0.7, 0.3, 0.8, 0.4, 0.8, 1.3, 0.9, 1.4, 1.8, 1.4, 1.4, 2.0, 1.9, 1.9, 2.5, 2.5, 2.2, 2.8, 3.2, 2.8, 3.0, 3.5, 3.1, 3.6, 3.3],
    [0.4, 0.2, 0.9, 0.9, 0.9, 0.7, 1.0, 1.6, 1.5, 1.2, 1.7, 1.4, 2.0, 2.4, 2.3, 2.2, 2.2, 2.8, 2.7, 3.2, 3.2, 3.0, 3.3, 3.7, 3.3, 3.6, 4.2, 4.1, 3.8, 4.1],
    [-0.2, 0.1, 0.2, -0.1, 0.3, 0.8, 0.8, 0.6, 1.0, 1.4, 1.2, 1.5, 1.2, 1.5, 2.0, 2.1, 1.8, 2.1, 2.7, 2.5, 2.3, 2.9, 3.1, 3.0, 2.9, 3.5, 3.6, 3.4, 4.1, 3.9],
    [0.1, 0.4, 0.1, 0.4, 1.0, 0.9, 0.5, 0.9, 1.4, 1.2, 1.2, 1.6, 2.1, 1.6, 2.0, 2.4, 2.2, 2.0, 2.7, 2.5, 3.1, 3.0, 2.7, 3.5, 3.5, 3.2, 3.6, 4.1, 4.0, 3.7],
    [0.5, 0.4, 1.1, 1.4, 1.2, 1.1, 1.7, 1.7, 1.6, 2.0, 2.4, 2.1, 2.6, 2.2, 2.4, 2.9, 3.2, 3.0, 2.8, 3.3, 3.2, 3.7, 4.0, 3.8, 3.7, 4.1, 4.5, 4.7, 4.4, 4.8],
    [-0.5, -0.1, -0.4, 0.0, 0.3, -0.1, 0.2, 0.7, 0.7, 0.3, 0.9, 1.3, 1.1, 1.0, 1.5, 1.8, 1.5, 1.4, 2.1, 2.0, 2.6, 2.4, 2.2, 2.8, 3.0, 2.7, 2.7, 3.2, 3.5, 3.4],
    [1.1, 1.4, 1.1, 1.4, 2.0, 1.9, 1.5, 1.9, 2.4, 2.2, 2.2, 2.6, 3.1, 2.6, 3.0, 3.4, 3.2, 3.0, 3.7, 3.5, 4.1, 4.0, 3.7, 4.5, 4.5, 4.2, 4.6, 5.1, 5.0, 4.7],
    [-1.3, -0.8, -0.9, -0.3, -0.4, -0.4, 0.2, 0.2, -0.2, 0.3, 0.7, 0.3, 0.7, 1.0, 0.6, 1.0, 1.6, 1.4, 1.3, 1.9, 1.8, 1.6, 2.2, 2.1, 2.7, 2.5, 2.3, 2.9, 2.7, 3.3],
    [0.3, 0.6, 0.7, 0.4, 0.8, 1.3, 1.3, 1.1, 1.5, 1.9, 1.7, 2.0, 1.7, 2.0, 2.5, 2.6, 2.3, 2.6, 3.2, 3.0, 2.8, 3.4, 3.6, 3.5, 3.4, 4.0, 4.1, 3.9, 4.6, 4.4],
    [-0.1, -0.3, 0.4, 0.4, 0.4, 0.2, 0.5, 1.1, 1.0, 0.7, 1.2, 0.9, 1.5, 1.9, 1.8, 1.7, 1.7, 2.3, 2.2, 2.7, 2.7, 2.5, 2.8, 3.2, 2.8, 3.1, 3.7, 3.6, 3.3, 3.6],
    [0.4, 0.0, 0.6, 0.2, 0.8, 1.2, 0.8, 1.3, 0.9, 1.3, 1.8, 1.4, 1.9, 2.3, 1.9, 1.9, 2.5, 2.4, 2.4, 3.0, 3.0, 2.7, 3.3, 3.7, 3.3, 3.5, 4.0, 3.6, 4.1, 3.8],
    [-0.8, -0.3, 0.2, -0.1, -0.1, 0.4, 0.6, 0.2, 0.7, 1.0, 0.8, 1.2, 0.9, 1.3, 1.7, 1.7, 1.5, 2.2, 2.1, 1.9, 2.3, 2.7, 2.4, 2.4, 3.0, 3.3, 3.1, 3.0, 3.7, 3.6],
    [0.7, 0.5, 1.2, 1.2, 1.2, 1.0, 1.3, 1.9, 1.8, 1.5, 2.0, 1.7, 2.3, 2.7, 2.6, 2.5, 2.5, 3.1, 3.0, 3.5, 3.5, 3.3, 3.6, 4.0, 3.6, 3.9, 4.5, 4.4, 4.1, 4.4],
]
model4_red_time = [0.0, 1.0]
model4_red = [0.0, 4.0]

captions = ["a", "b", "c", "d"]
model_names = ["Model 1", "Model 2", "Model 3", "Model 4"]

sns.set_theme(style="whitegrid")
plt.rcParams["font.family"] = ["DejaVu Sans"]
plt.rcParams["text.color"] = "black"
plt.rcParams["axes.labelcolor"] = "black"
plt.rcParams["mathtext.fontset"] = "custom"
plt.rcParams["mathtext.rm"] = "Liberation Serif"
plt.rcParams["mathtext.bf"] = "Liberation Serif:bold"

fig = plt.figure(figsize=(10.22, 6.03), dpi=100)

panels = [
    # curves, red x, red y, axes rect, ylim, yticks
    (model1_curves, time_domain, model1_red, [0.0568, 0.6385, 0.408, 0.3366], (-2.28, 5.87), range(-2, 6)),
    (model2_curves, time_domain, model2_red, [0.5832, 0.6385, 0.408, 0.3366], (-1.83, 5.71), range(-1, 6)),
    (model3_curves, time_domain, model3_red, [0.0568, 0.1211, 0.408, 0.3383], (-1.96, 7.5), [0, 2, 4, 6]),
    (model4_curves, model4_red_time, model4_red, [0.5832, 0.1211, 0.408, 0.3383], (-2.53, 5.63), range(-2, 6)),
]
caption_pos = [(0.271, 0.5357), (0.780, 0.5357), (0.271, 0.0216), (0.780, 0.0216)]

for i, (curves, rx, ry, rect, ylim, yticks) in enumerate(panels):
    for j, c in enumerate(curves):
        assert len(c) == len(time_domain), (i, j, len(c))
    n = len(curves)
    df = pd.DataFrame({
        "time": np.tile(time_domain, n),
        "value": np.ravel(curves),
        "curve": np.repeat(np.arange(n), len(time_domain)),
    })
    ax = fig.add_axes(rect)
    sns.lineplot(data=df, x="time", y="value", units="curve", estimator=None,
                 color="navy", lw=1.3, ax=ax, legend=False)
    sns.lineplot(x=rx, y=ry, color="red", lw=1.2, ax=ax, zorder=5)

    ax.set_xlim(-0.05, 1.05)
    ax.set_ylim(*ylim)
    ax.set_xticks([0.0, 0.2, 0.4, 0.6, 0.8, 1.0])
    ax.set_yticks(list(yticks))
    ax.set_xlabel("Time Domain", fontsize=13, labelpad=0, color="black")
    ax.set_ylabel("Functional data values", fontsize=13, labelpad=0, color="black")
    ax.tick_params(labelsize=11.5, length=0, pad=3, labelcolor="black")
    ax.grid(True, color="#555555", linestyle=(0, (1.5, 1.2)), linewidth=0.8)
    ax.set_axisbelow(True)
    for sp in ax.spines.values():
        sp.set_visible(True)
        sp.set_color("#333333")
        sp.set_linewidth(1.2)

    cx, cy = caption_pos[i]
    fig.text(cx, cy, "($\\mathbf{" + captions[i] + "}$) " + model_names[i],
             fontfamily="Liberation Serif", fontsize=17, ha="center", va="center")

fig.savefig("out.png", dpi=100, facecolor="white")
